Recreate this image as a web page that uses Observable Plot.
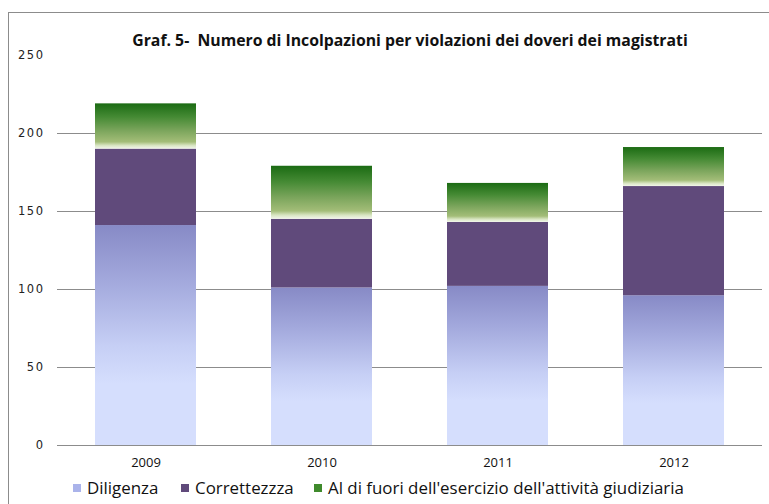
<!DOCTYPE html>
<html>
<head>
<meta charset="utf-8">
<script src="https://cdn.jsdelivr.net/npm/d3@7"></script>
<script src="https://cdn.jsdelivr.net/npm/@observablehq/plot@0.6"></script>
<style>
  body { margin: 0; background: #fff; }
  #wrap { position: relative; width: 769px; height: 504px; overflow: hidden; font-family: "Open Sans", sans-serif; }
  #frame { position: absolute; left: 8px; top: 12px; width: 900px; height: 700px; border: 1px solid #8c8c8c; }
  #title { position: absolute; left: 0; width: 820px; top: 29px; text-align: center; font-weight: bold; font-size: 15.8px; color: #111; white-space: nowrap; }
  #chart { position: absolute; left: 0; top: 0; }
  #legend { position: absolute; top: 476px; left: 0; width: 769px; height: 26px; font-size: 16.9px; color: #111; }
  .item { position: absolute; top: 0; display: flex; align-items: center; white-space: nowrap; }
  .sw { width: 8px; height: 8px; margin-right: 6px; }
  #chart g[aria-label="y-axis tick label"] text { letter-spacing: 1.5px; }
</style>
</head>
<body>
<div id="wrap">
  <div id="frame"></div>
  <div id="chart"></div>
  <div id="title">Graf. 5-&nbsp; Numero di Incolpazioni per violazioni dei doveri dei magistrati</div>
  <div id="legend"></div>
</div>
<script>
const years = ["2009", "2010", "2011", "2012"];
const series = ["Diligenza", "Correttezzza", "Al di fuori dell'esercizio dell'attività giudiziaria"];
const diligenza = [141, 101, 102, 96];
const correttezza = [49, 44, 41, 70];
const fuori = [29, 34, 25, 25];
const yTicks = [0, 50, 100, 150, 200, 250];
const gridTicks = [50, 100, 150, 200];
const fills = ["url(#gD)", "#604a7b", "url(#gF)"];
const swatches = ["#aab3ea", "#604a7b", "#3f8a2c"];
const legendX = [73, 181, 314];

const values = [diligenza, correttezza, fuori];
const data = [];
series.forEach((s, si) => years.forEach((y, yi) => data.push({year: y, series: s, value: values[si][yi]})));

const plot = Plot.plot({
  width: 769,
  height: 475,
  marginLeft: 57,
  marginRight: 7,
  marginTop: 55,
  marginBottom: 30,
  x: {domain: years, paddingInner: 0.425, paddingOuter: 0.2125, label: null},
  y: {domain: [0, 250], label: null},
  color: {domain: series, range: fills},
  style: {background: "transparent", overflow: "visible"},
  marks: [
    Plot.ruleY(gridTicks, {stroke: "#8c8c8c", strokeWidth: 1, strokeOpacity: 1}),
    Plot.barY(data, {x: "year", y: "value", fill: "series", order: series}),
    Plot.ruleY([0], {stroke: "#8c8c8c", strokeWidth: 1}),
    Plot.axisY({ticks: yTicks, tickSize: 0, tickPadding: 13, fontSize: 11.5, fontFamily: "DejaVu Sans", fill: "#222", label: null, tickFormat: d => String(d)}),
    Plot.axisX({tickSize: 0, tickPadding: 12, fontSize: 13, fontFamily: "Open Sans", fill: "#111", label: null})
  ]
});

const svg = d3.select(plot);
const defs = svg.insert("defs", ":first-child");
const gD = defs.append("linearGradient").attr("id", "gD").attr("x1", 0).attr("y1", 0).attr("x2", 0).attr("y2", 1);
[[0, "#878ac6"], [0.25, "#a2a8dc"], [0.55, "#c6cff5"], [0.72, "#d5defd"], [1, "#d5defd"]].forEach(([o, c]) =>
  gD.append("stop").attr("offset", o).attr("stop-color", c));
const gF = defs.append("linearGradient").attr("id", "gF").attr("x1", 0).attr("y1", 0).attr("x2", 0).attr("y2", 1);
[[0, "#1b6b13"], [0.3, "#458a34"], [0.6, "#7ba55c"], [0.85, "#a3bd78"], [0.93, "#d8e5c2"], [1, "#f2f6ea"]].forEach(([o, c]) =>
  gF.append("stop").attr("offset", o).attr("stop-color", c));

document.getElementById("chart").appendChild(plot);

const legend = document.getElementById("legend");
series.forEach((s, i) => {
  const item = document.createElement("div");
  item.className = "item";
  item.style.left = legendX[i] + "px";
  const sw = document.createElement("span");
  sw.className = "sw";
  sw.style.background = swatches[i];
  const t = document.createElement("span");
  t.textContent = s;
  item.appendChild(sw);
  item.appendChild(t);
  legend.appendChild(item);
});
</script>
</body>
</html>
